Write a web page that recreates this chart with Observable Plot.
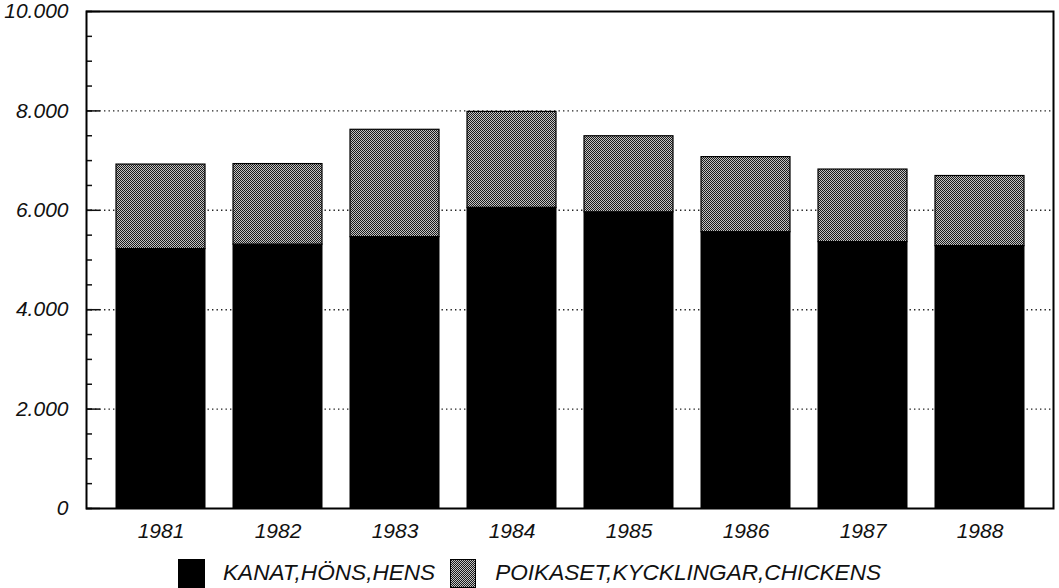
<!DOCTYPE html>
<html>
<head>
<meta charset="utf-8">
<script src="https://cdn.jsdelivr.net/npm/d3@7"></script>
<script src="https://cdn.jsdelivr.net/npm/@observablehq/plot@0.6"></script>
<style>
  body { margin: 0; background: #fff; font-family: "Liberation Sans", Arial, sans-serif; }
  #chart svg { display: block; }
  .legend { display: flex; align-items: center; height: 40px; padding-left: 178px; font-style: italic; font-size: 22.6px; color: #111; }
  .legend .sw { width: 27px; height: 29px; margin-top: 11px; box-sizing: border-box; }
  .legend .lab { margin-top: 10px; white-space: nowrap; }
</style>
</head>
<body>
<div id="chart"></div>
<div class="legend">
  <div class="sw" style="background:#000"></div>
  <div class="lab" style="margin-left:18px">KANAT,HÖNS,HENS</div>
  <svg class="sw" style="margin-left:15px" width="26" height="29"><rect x="0.5" y="0.5" width="25" height="28" fill="url(#checker)" stroke="#000"/></svg>
  <div class="lab" style="margin-left:18px">POIKASET,KYCKLINGAR,CHICKENS</div>
</div>
<script>
const years = ["1981", "1982", "1983", "1984", "1985", "1986", "1987", "1988"];
const hens = [5220, 5310, 5460, 6050, 5960, 5560, 5360, 5280];
const chickens = [1700, 1620, 2160, 1930, 1530, 1510, 1460, 1410];
const yMajorTicks = [0, 2000, 4000, 6000, 8000, 10000];
const yGridTicks = [2000, 4000, 6000, 8000];
const yMinorTicks = d3.range(0, 10001, 500);

const rows = years.map((y, i) => ({year: y, hens: hens[i], total: hens[i] + chickens[i]}));
const fmt = d => d === 0 ? "0" : d3.format(",")(d).replace(/,/g, ".");

const plot = Plot.plot({
  width: 1059,
  height: 548,
  marginLeft: 86,
  marginRight: 6,
  marginTop: 11,
  marginBottom: 40,
  style: {fontFamily: "'Liberation Sans', Arial, sans-serif", fontStyle: "italic", fontSize: "21px", color: "#111", background: "#fff"},
  x: {domain: years, padding: 0.24, label: null},
  y: {domain: [0, 10000], label: null},
  marks: [
    Plot.ruleY(yGridTicks, {stroke: "#222", strokeDasharray: "1.4,3.1", strokeWidth: 1.4}),
    Plot.barY(rows, {x: "year", y1: 0, y2: "hens", fill: "#000", stroke: "#000", strokeWidth: 1}),
    Plot.barY(rows, {x: "year", y1: "hens", y2: "total", fill: "url(#checker)", stroke: "#000", strokeWidth: 1.2}),
    Plot.axisY(yMinorTicks, {tickSize: -6, tickFormat: () => "", strokeWidth: 1.5, label: null}),
    Plot.axisY(yMajorTicks, {tickSize: -14, tickFormat: () => "", strokeWidth: 1.5, label: null}),
    Plot.axisY(yMajorTicks, {tickSize: 0, tickPadding: 18, tickFormat: fmt, fontSize: 21, label: null}),
    Plot.axisX({tickSize: 0, tickPadding: 15, fontSize: 21, label: null}),
    Plot.frame({stroke: "#000", strokeWidth: 2})
  ]
});

// checker pattern for the chickens series
const ns = "http://www.w3.org/2000/svg";
const defs = document.createElementNS(ns, "defs");
defs.innerHTML = '<pattern id="checker" patternUnits="userSpaceOnUse" width="2" height="2">' +
  '<rect width="2" height="2" fill="#c4c4c4"/>' +
  '<rect x="0" y="0" width="1" height="1" fill="#1a1a1a"/>' +
  '<rect x="1" y="1" width="1" height="1" fill="#1a1a1a"/></pattern>';
plot.insertBefore(defs, plot.firstChild);
document.getElementById("chart").appendChild(plot);
</script>
</body>
</html>
